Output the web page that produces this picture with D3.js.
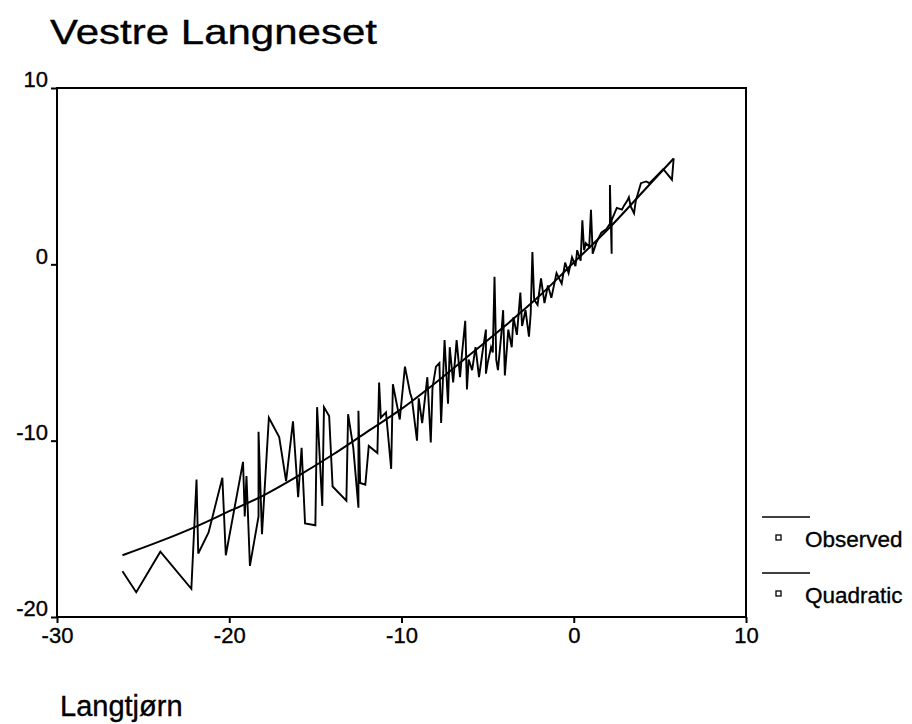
<!DOCTYPE html>
<html>
<head>
<meta charset="utf-8">
<script src="https://cdnjs.cloudflare.com/ajax/libs/d3/7.8.5/d3.min.js"></script>
<style>
	body { margin: 0; background: #fff; }
	text { font-family: 'Liberation Sans', Arial, Helvetica, sans-serif; fill: #000; stroke: #000; stroke-width: 0.35px; }
</style>
</head>
<body>
<div id="chart"></div>
<script>
// data
var title = 'Vestre Langneset';
var xLabel = 'Langtjørn';
var xTicks = [-30, -20, -10, 0, 10];
var yTicks = [10, 0, -10, -20];
var legendLabels = ['Observed', 'Quadratic'];

// observed values, sorted by Langtjørn
var obsX = [-26.2, -25.4, -24.0, -22.2, -21.9, -21.8, -21.2, -20.4, -20.2, -19.2,
	-19.1, -19.0, -18.8, -18.3, -18.3, -18.1, -17.7, -17.1, -16.7, -16.3,
	-16.0, -15.8, -15.6, -15.0, -14.9, -14.6, -14.5, -14.2, -14.0, -13.2,
	-13.1, -12.8, -12.5, -12.5, -12.4, -12.1, -11.9, -11.4, -11.3, -11.2,
	-10.9, -10.6, -10.5, -10.1, -9.8, -9.5, -9.4, -9.1, -9.0, -8.8,
	-8.5, -8.3, -8.2, -8.0, -7.8, -7.7, -7.5, -7.3, -7.2, -7.0,
	-6.8, -6.6, -6.5, -6.3, -6.2, -6.1, -5.9, -5.7, -5.5, -5.3,
	-5.1, -5.1, -5.0, -4.8, -4.7, -4.6, -4.5, -4.4, -4.2, -4.1,
	-4.0, -3.8, -3.6, -3.5, -3.3, -3.1, -3.0, -2.8, -2.6, -2.5,
	-2.4, -2.3, -2.1, -1.9, -1.7, -1.5, -1.3, -1.0, -0.7, -0.5,
	-0.3, -0.1, 0.1, 0.2, 0.4, 0.5, 0.6, 0.7, 0.9, 1.0,
	1.1, 1.3, 1.6, 1.9, 2.1, 2.1, 2.2, 2.2, 2.5, 2.8,
	2.9, 3.1, 3.2, 3.3, 3.5, 3.6, 3.9, 4.2, 4.4, 5.2,
	5.7, 5.8];
var obsY = [-17.4, -18.6, -16.3, -18.4, -12.2, -16.4, -15.2, -12.1, -16.5, -11.2,
	-14.3, -12.0, -17.1, -14.3, -9.5, -15.3, -8.7, -9.8, -12.3, -8.9,
	-13.2, -10.4, -14.7, -14.8, -8.1, -13.7, -8.1, -8.6, -12.6, -13.4,
	-8.5, -10.4, -13.8, -8.3, -12.4, -12.5, -10.3, -10.7, -6.7, -8.7,
	-8.4, -11.6, -6.8, -8.8, -5.8, -7.3, -7.6, -10.0, -7.6, -9.0,
	-6.4, -10.1, -7.0, -5.8, -5.6, -9.0, -4.3, -7.9, -4.7, -6.7,
	-4.3, -6.4, -5.2, -3.2, -7.1, -5.4, -6.0, -4.7, -6.4, -5.0,
	-3.7, -6.2, -5.6, -4.7, -5.0, -0.7, -5.4, -6.0, -3.9, -2.6,
	-6.3, -3.7, -4.7, -3.0, -4.0, -1.6, -3.5, -2.6, -4.1, -2.8,
	0.7, -2.0, -2.3, -0.8, -2.2, -1.2, -1.9, -0.5, -1.1, 0.1,
	-0.5, 0.4, -0.1, 0.8, 0.2, 2.5, 0.8, 1.2, 1.0, 3.1,
	0.6, 1.2, 1.8, 2.0, 2.3, 4.5, 0.6, 2.5, 3.2, 3.1,
	3.3, 3.6, 3.8, 3.3, 2.9, 3.6, 4.6, 4.7, 4.6, 5.4,
	4.8, 6.0];

// quadratic fit
var quadX = [-26.2, -24, -22, -20, -18, -16, -14, -12, -10, -8, -6, -4, -2, 0, 2, 4, 5.8];
var quadY = [-16.5, -15.7, -14.9, -14.0, -13.1, -12.0, -10.8, -9.5, -8.2, -6.7, -5.1, -3.5, -1.8, 0.1, 2.0, 4.1, 6.0];

var observed = obsX.map(function (x, i) { return { x: x, y: obsY[i] }; });
var quadratic = quadX.map(function (x, i) { return { x: x, y: quadY[i] }; });

// chart
var W = 912, H = 724;
var plot = { left: 57, right: 746, top: 88, bottom: 617 };

var svg = d3.select('#chart')
	.append('svg')
	.attr('width', W)
	.attr('height', H);

var x = d3.scaleLinear().domain([-30, 10]).range([plot.left, plot.right]);
var y = d3.scaleLinear().domain([-20, 10]).range([plot.bottom, plot.top]);

// title (the scan is wide, so stretch it to the same length)
svg.append('text')
	.attr('x', 50)
	.attr('y', 44)
	.attr('textLength', 327)
	.attr('lengthAdjust', 'spacingAndGlyphs')
	.style('font-size', '35px')
	.text(title);

// frame
svg.append('rect')
	.attr('x', plot.left)
	.attr('y', plot.top)
	.attr('width', plot.right - plot.left)
	.attr('height', plot.bottom - plot.top)
	.attr('fill', 'none')
	.attr('stroke', '#000')
	.attr('stroke-width', 2);

// axes
var x_axis = d3.axisBottom(x)
	.tickValues(xTicks)
	.tickSize(6)
	.tickPadding(4)
	.tickFormat(function (d) { return String(d); });
var y_axis = d3.axisLeft(y)
	.tickValues(yTicks)
	.tickSize(6)
	.tickPadding(3)
	.tickFormat(function (d) { return String(d); });

var gx = svg.append('g')
	.attr('class', 'x axis')
	.attr('transform', 'translate(0,' + plot.bottom + ')')
	.call(x_axis);
var gy = svg.append('g')
	.attr('class', 'y axis')
	.attr('transform', 'translate(' + plot.left + ',0)')
	.call(y_axis);

[gx, gy].forEach(function (g) {
	g.attr('font-size', null).attr('font-family', null);
	g.select('.domain').remove();
	g.selectAll('line').attr('stroke', '#000').attr('stroke-width', 2);
	g.selectAll('text')
		.style('font-size', '22px')
		.attr('fill', '#000');
});
gy.selectAll('text').attr('dy', '-0.05em');

// lines
var line = d3.line()
	.x(function (d) { return x(d.x); })
	.y(function (d) { return y(d.y); });

svg.append('path')
	.datum(observed)
	.attr('d', line)
	.attr('fill', 'none')
	.attr('stroke', '#000')
	.attr('stroke-width', 1.9)
	.attr('stroke-linejoin', 'miter');

svg.append('path')
	.datum(quadratic)
	.attr('d', line.curve(d3.curveMonotoneX))
	.attr('fill', 'none')
	.attr('stroke', '#000')
	.attr('stroke-width', 2);

// x label
svg.append('text')
	.attr('x', 60)
	.attr('y', 716)
	.style('font-size', '29px')
	.text(xLabel);

// legend
var legend = svg.selectAll('.legend')
	.data(legendLabels)
	.enter()
	.append('g')
	.attr('class', 'legend')
	.attr('transform', function (d, i) { return 'translate(762,' + (517 + i * 56) + ')'; });

legend.append('line')
	.attr('x1', 0)
	.attr('x2', 48)
	.attr('y1', 0)
	.attr('y2', 0)
	.attr('stroke', '#000')
	.attr('stroke-width', 1.5);

legend.append('rect')
	.attr('x', 14)
	.attr('y', 18)
	.attr('width', 5)
	.attr('height', 5)
	.attr('fill', '#fff')
	.attr('stroke', '#000')
	.attr('stroke-width', 1.3);

legend.append('text')
	.attr('x', 43)
	.attr('y', 30)
	.style('font-size', '22.5px')
	.text(function (d) { return d; });
</script>
</body>
</html>
